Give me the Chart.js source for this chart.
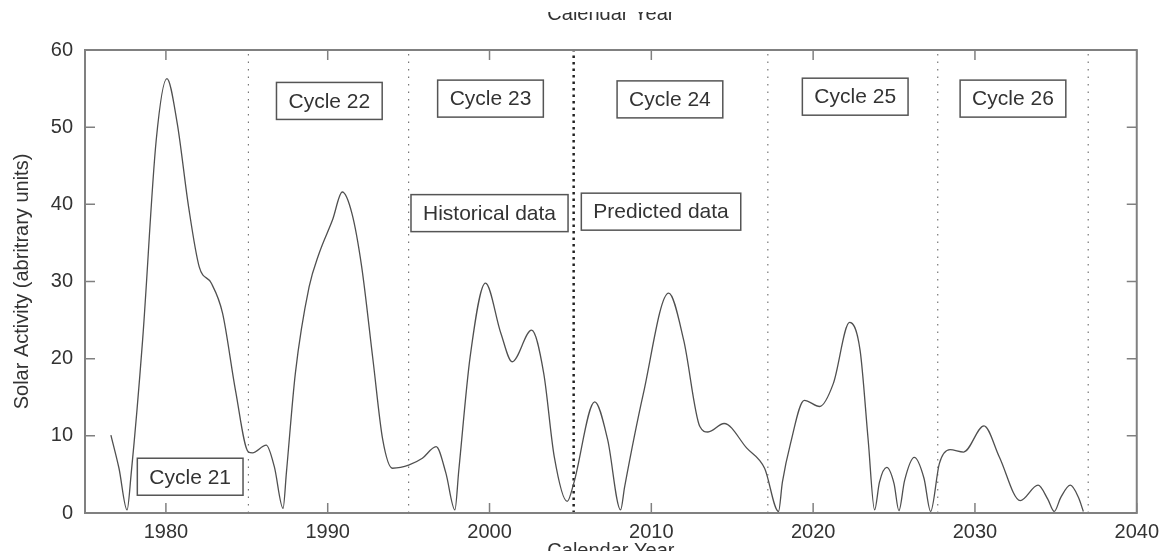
<!DOCTYPE html>
<html>
<head>
<meta charset="utf-8">
<script src="https://cdn.jsdelivr.net/npm/chart.js@4.4.1/dist/chart.umd.min.js"></script>
<style>
    body { margin: 0; background: #fff; }
    #wrap { width: 1166px; height: 551px; position: relative; }
</style>
</head>
<body>
<div id="wrap"><canvas id="chart"></canvas></div>
<script>
// --- Data ---
const years = [
    1976.6, 1977.1, 1977.6, 1977.85, 1978.56, 1979.4, 1980.06, 1980.7, 1981.4, 1982.06,
    1982.8, 1983.5, 1984.3, 1985.1, 1985.35, 1986.2, 1986.7, 1987.24, 1987.45, 1988.0,
    1988.85, 1989.46, 1990.3, 1990.9, 1991.5, 1992.1, 1992.8, 1993.4, 1994.0, 1994.5,
    1995.0, 1995.85, 1996.7, 1997.3, 1997.86, 1998.1, 1998.8, 1999.75, 2000.7, 2001.4,
    2002.6, 2003.35, 2004.0, 2004.8, 2005.2, 2006.5, 2007.3, 2008.1, 2008.35, 2009.5,
    2011.07, 2012.0, 2013.0, 2013.5, 2014.5, 2015.9, 2017.0, 2017.86, 2018.1, 2018.6,
    2019.45, 2020.4, 2021.25, 2022.25, 2022.9, 2023.4, 2023.8, 2024.1, 2024.55, 2025.0,
    2025.3, 2025.65, 2026.25, 2026.85, 2027.26, 2027.8, 2028.46, 2029.3, 2030.56, 2031.5,
    2032.8, 2033.9, 2034.5, 2034.9, 2035.3, 2035.9, 2036.4, 2036.7
];
const activity = [
    10.1, 5.8, 0.4, 5.0, 22.4, 48.3, 56.3, 50.5, 39.7, 31.9,
    29.8, 25.9, 15.9, 7.9, 7.8, 8.8, 6.0, 0.6, 5.3, 18.1,
    29.3, 33.6, 38.0, 41.6, 38.8, 31.9, 19.8, 9.5, 5.8, 5.9,
    6.2, 7.1, 8.6, 5.2, 0.4, 5.5, 20.2, 29.8, 23.3, 19.6,
    23.7, 18.1, 7.3, 1.5, 3.8, 14.4, 9.5, 0.4, 3.4, 15.4,
    28.5, 22.4, 11.2, 10.5, 11.6, 8.4, 5.8, 0.2, 4.0, 9.0,
    14.6, 13.8, 16.8, 24.7, 21.1, 9.5, 0.4, 4.0, 5.9, 3.8,
    0.3, 4.2, 7.2, 4.5, 0.2, 6.4, 8.2, 7.9, 11.3, 7.3,
    1.6, 3.6, 1.8, 0.2, 2.0, 3.6, 2.0, 0.2
];
const cycleBoundaries = [1985.1, 1995.0, 2017.2, 2027.7, 2037.0];
const splitYear = 2005.2;
const xTickLabels = [1980, 1990, 2000, 2010, 2020, 2030, 2040];
const yTickLabels = [0, 10, 20, 30, 40, 50, 60];
const boxLabels = ['Cycle 21', 'Cycle 22', 'Cycle 23', 'Cycle 24', 'Cycle 25', 'Cycle 26', 'Historical data', 'Predicted data'];
const boxYears = [1981.5, 1990.1, 2000.06, 2011.15, 2022.6, 2032.35, 2000.0, 2010.6];
const boxValues = [4.7, 53.4, 53.7, 53.6, 53.95, 53.7, 38.86, 39.05];

const FONT = "'Liberation Sans', Arial, Helvetica, sans-serif";

// --- Datasets ---
const curve = {
    data: years.map((yr, i) => ({ x: yr, y: activity[i] })),
    borderColor: '#505050',
    borderWidth: 1.3,
    pointRadius: 0,
    cubicInterpolationMode: 'monotone',
    fill: false
};

const boundarySets = cycleBoundaries.map(b => ({
    data: [{ x: b, y: 0 }, { x: b, y: 60 }],
    borderColor: '#777',
    borderWidth: 1.2,
    borderDash: [1.5, 6],
    pointRadius: 0
}));

boundarySets.push({
    data: [{ x: splitYear, y: 0 }, { x: splitYear, y: 60 }],
    borderColor: '#222',
    borderWidth: 2.5,
    borderDash: [2.5, 4],
    pointRadius: 0
});

// --- Frame, inward ticks, labelled boxes ---
const decorPlugin = {
    id: 'decor',
    beforeDraw(chart) {
        const { ctx, width, height } = chart;
        ctx.save();
        ctx.fillStyle = '#fff';
        ctx.fillRect(0, 0, width, height);
        ctx.restore();
    },
    afterDatasetsDraw(chart) {
        const { ctx, chartArea: a, scales: { x, y } } = chart;
        ctx.save();
        ctx.strokeStyle = '#808080';
        ctx.lineWidth = 2;
        ctx.strokeRect(a.left, a.top, a.right - a.left, a.bottom - a.top);

        ctx.lineWidth = 1.5;
        ctx.beginPath();
        xTickLabels.forEach(v => {
            const px = x.getPixelForValue(v);
            ctx.moveTo(px, a.bottom); ctx.lineTo(px, a.bottom - 10);
            ctx.moveTo(px, a.top); ctx.lineTo(px, a.top + 10);
        });
        yTickLabels.forEach(v => {
            const py = y.getPixelForValue(v);
            ctx.moveTo(a.left, py); ctx.lineTo(a.left + 10, py);
            ctx.moveTo(a.right, py); ctx.lineTo(a.right - 10, py);
        });
        ctx.stroke();

        ctx.font = '21px ' + FONT;
        ctx.textAlign = 'center';
        ctx.textBaseline = 'middle';
        boxLabels.forEach((label, i) => {
            const cx = x.getPixelForValue(boxYears[i]);
            const cy = y.getPixelForValue(boxValues[i]);
            const w = ctx.measureText(label).width + 24;
            const h = 37;
            ctx.fillStyle = '#fff';
            ctx.fillRect(cx - w / 2, cy - h / 2, w, h);
            ctx.strokeStyle = '#555';
            ctx.lineWidth = 1.5;
            ctx.strokeRect(cx - w / 2, cy - h / 2, w, h);
            ctx.fillStyle = '#333';
            ctx.fillText(label, cx, cy + 1);
        });
        ctx.restore();
    },
    afterDraw(chart) {
        const { ctx, chartArea: a, width } = chart;
        const cx = (a.left + a.right) / 2;
        ctx.save();
        ctx.font = '20px ' + FONT;
        ctx.fillStyle = '#333';
        ctx.textAlign = 'center';
        // the figure was cropped through both axis titles
        ctx.textBaseline = 'alphabetic';
        ctx.fillText('Calendar Year', cx, 20);
        ctx.fillStyle = '#fff';
        ctx.fillRect(0, 0, width, 12);
        ctx.fillStyle = '#333';
        ctx.textBaseline = 'top';
        ctx.fillText('Calendar Year', cx, 541);
        ctx.restore();
    }
};

new Chart(document.getElementById('chart'), {
    type: 'line',
    data: { datasets: [curve, ...boundarySets] },
    options: {
        responsive: true,
        maintainAspectRatio: false,
        devicePixelRatio: 1,
        animation: false,
        layout: { padding: { top: 50, right: 29, left: 0, bottom: 0 } },
        plugins: { legend: { display: false }, tooltip: { enabled: false } },
        scales: {
            x: {
                type: 'linear',
                min: 1975,
                max: 2040,
                grid: { display: false, drawTicks: false },
                border: { display: false },
                afterBuildTicks: scale => { scale.ticks = xTickLabels.map(v => ({ value: v })); },
                afterFit: scale => { scale.height = 38; },
                ticks: {
                    padding: 7,
                    maxRotation: 0,
                    color: '#333',
                    font: { family: FONT, size: 20 },
                    callback: v => String(v)
                }
            },
            y: {
                min: 0,
                max: 60,
                grid: { display: false, drawTicks: false },
                border: { display: false },
                afterBuildTicks: scale => { scale.ticks = yTickLabels.map(v => ({ value: v })); },
                afterFit: scale => { scale.width = 85; },
                title: {
                    display: true,
                    text: 'Solar Activity (abritrary units)',
                    color: '#333',
                    font: { family: FONT, size: 20 },
                    padding: { top: 10, bottom: 0 }
                },
                ticks: {
                    padding: 12,
                    color: '#333',
                    font: { family: FONT, size: 20 }
                }
            }
        }
    },
    plugins: [decorPlugin]
});
</script>
</body>
</html>
